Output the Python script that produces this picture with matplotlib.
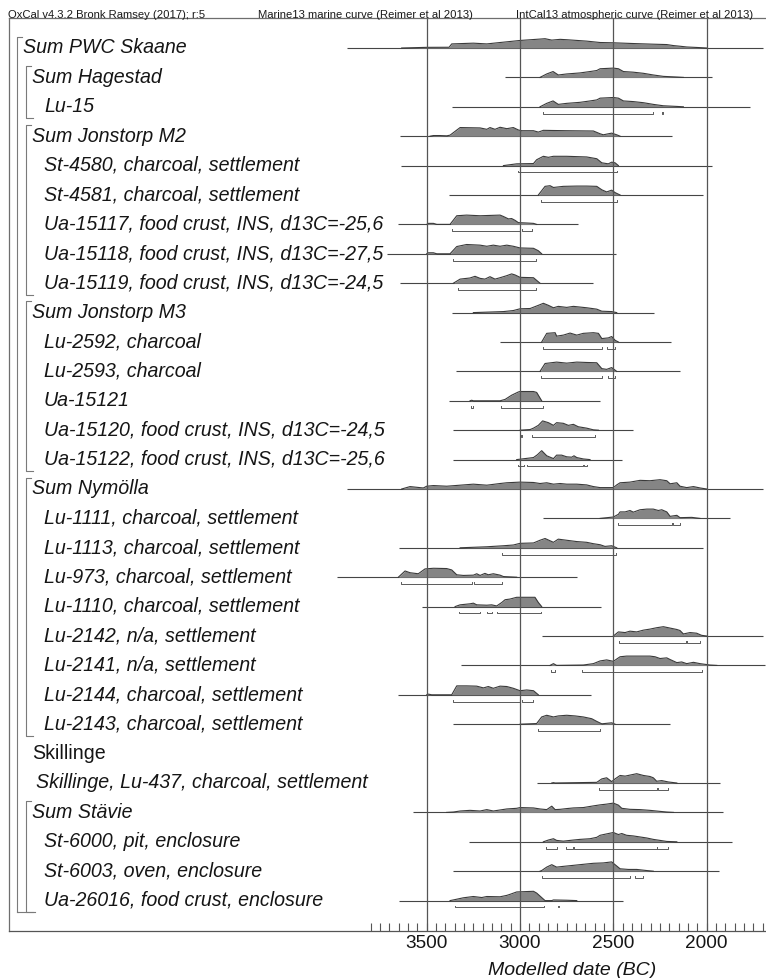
import matplotlib
matplotlib.use("Agg")
import matplotlib.pyplot as plt
from matplotlib.ticker import FixedLocator
import numpy as np

plt.rcParams['font.family'] = ['Liberation Sans', 'DejaVu Sans']

# ---------------------------------------------------------------- data
names = [
    "Sum PWC Skaane", "Sum Hagestad", "Lu-15", "Sum Jonstorp M2",
    "St-4580, charcoal, settlement", "St-4581, charcoal, settlement",
    "Ua-15117, food crust, INS, d13C=-25,6", "Ua-15118, food crust, INS, d13C=-27,5",
    "Ua-15119, food crust, INS, d13C=-24,5", "Sum Jonstorp M3",
    "Lu-2592, charcoal", "Lu-2593, charcoal", "Ua-15121",
    "Ua-15120, food crust, INS, d13C=-24,5", "Ua-15122, food crust, INS, d13C=-25,6",
    "Sum Nymölla", "Lu-1111, charcoal, settlement", "Lu-1113, charcoal, settlement",
    "Lu-973, charcoal, settlement", "Lu-1110, charcoal, settlement",
    "Lu-2142, n/a, settlement", "Lu-2141, n/a, settlement",
    "Lu-2144, charcoal, settlement", "Lu-2143, charcoal, settlement",
    "Skillinge", "Skillinge, Lu-437, charcoal, settlement",
    "Sum Stävie", "St-6000, pit, enclosure", "St-6003, oven, enclosure",
    "Ua-26016, food crust, enclosure",
]
# nesting depth of each entry (0 = outer sum, 1 = site sum, 2 = date)
depth = [0, 1, 2, 1, 2, 2, 2, 2, 2, 1, 2, 2, 2, 2, 2, 1, 2, 2, 2, 2, 2, 2, 2, 2,
         1, 2, 1, 2, 2, 2]
# groups bracketed on the left: (first row, last row)
groups = [(0, 29), (1, 2), (3, 8), (9, 14), (15, 23), (26, 29)]

# span of the prior (thin line) for each row, years BC; None = no plot
span = [
    (3929, 1696), (3080, 1973), (3366, 1768), (3643, 2187), (3637, 1973),
    (3379, 2018), (3652, 2687), (3714, 2486), (3643, 2607), (3366, 2282),
    (3107, 2192), (3345, 2143), (3379, 2571), (3357, 2396), (3357, 2455),
    (3929, 1696), (2878, 1875), (3648, 2018), (3982, 2693), (3527, 2566),
    (2884, 1696), (3318, 1687), (3652, 2621), (3357, 2196), None,
    (2911, 1928), (3571, 1910), (3271, 1866), (3357, 1932), (3648, 2450),
]

# posterior density outlines: years BC and relative density (max = 100)
dens_years = [
    [3634, 3500, 3380, 3366, 3250, 3178, 3107, 3000, 2893, 2866, 2830, 2785, 2750,
     2643, 2571, 2500, 2393, 2286, 2214, 2178, 2143, 2107, 2035, 2000],
    [2893, 2857, 2823, 2795, 2750, 2679, 2625, 2589, 2571, 2500, 2473, 2446, 2393,
     2339, 2286, 2232, 2160, 2125],
    [2893, 2857, 2823, 2795, 2750, 2679, 2625, 2589, 2571, 2500, 2473, 2446, 2393,
     2339, 2286, 2232, 2160, 2125],
    [3482, 3464, 3429, 3393, 3375, 3321, 3214, 3178, 3161, 3134, 3107, 3071, 3036,
     3009, 2991, 2928, 2902, 2875, 2750, 2607, 2571, 2554, 2509, 2482, 2464],
    [3089, 3018, 2928, 2911, 2875, 2848, 2821, 2750, 2643, 2589, 2562, 2527, 2509,
     2491, 2473],
    [2902, 2866, 2839, 2821, 2768, 2696, 2643, 2589, 2562, 2536, 2509, 2491, 2464],
    [3500, 3491, 3464, 3446, 3375, 3339, 3286, 3214, 3107, 3089, 3062, 3045, 3027,
     3009, 2964, 2928, 2911],
    [3500, 3491, 3464, 3446, 3375, 3339, 3286, 3214, 3178, 3143, 3107, 3071, 3036,
     3000, 2928, 2902, 2884],
    [3357, 3321, 3268, 3241, 3214, 3188, 3161, 3134, 3107, 3071, 3045, 3027, 3000,
     2928, 2893],
    [3250, 3089, 3036, 3000, 2946, 2902, 2875, 2848, 2821, 2795, 2750, 2714, 2643,
     2589, 2562, 2509, 2482],
    [2884, 2857, 2812, 2804, 2768, 2732, 2696, 2661, 2607, 2580, 2562, 2527, 2509,
     2491, 2473],
    [2893, 2866, 2804, 2750, 2696, 2643, 2589, 2562, 2536, 2509, 2482],
    [3268, 3259, 3250, 3107, 3080, 3045, 3009, 3000, 2928, 2911, 2884],
    [3000, 2946, 2928, 2902, 2879, 2848, 2821, 2804, 2768, 2741, 2714, 2688, 2643,
     2607, 2580],
    [3018, 2928, 2907, 2884, 2857, 2821, 2804, 2777, 2750, 2723, 2711, 2696, 2661,
     2625],
    [3634, 3589, 3518, 3500, 3464, 3393, 3321, 3250, 3178, 3107, 3071, 3000, 2928,
     2893, 2857, 2821, 2785, 2750, 2696, 2643, 2607, 2571, 2500, 2482, 2464, 2411,
     2357, 2304, 2250, 2214, 2196, 2160, 2143, 2107, 2071, 2035, 2000],
    [2571, 2500, 2473, 2464, 2437, 2411, 2393, 2357, 2321, 2286, 2259, 2241, 2214,
     2196, 2160, 2143, 2080, 2036],
    [3321, 3178, 3089, 3036, 3000, 2928, 2893, 2866, 2821, 2795, 2750, 2696, 2643,
     2607, 2571, 2545, 2509, 2482],
    [3652, 3616, 3589, 3545, 3509, 3464, 3393, 3366, 3339, 3304, 3250, 3232, 3214,
     3188, 3170, 3143, 3107, 3089, 3018],
    [3348, 3321, 3268, 3250, 3232, 3178, 3152, 3125, 3098, 3080, 3054, 3018, 2920,
     2902, 2884],
    [2500, 2473, 2437, 2411, 2375, 2339, 2304, 2268, 2232, 2196, 2160, 2143, 2125,
     2089, 2054, 2027, 2000],
    [2839, 2821, 2804, 2661, 2607, 2571, 2536, 2500, 2464, 2429, 2304, 2277, 2250,
     2214, 2196, 2160, 2134, 2107, 2071, 2036, 1982, 1946],
    [3500, 3491, 3473, 3366, 3339, 3286, 3232, 3196, 3170, 3143, 3107, 3071, 3036,
     3000, 2964, 2928, 2902],
    [3000, 2911, 2884, 2857, 2821, 2795, 2750, 2705, 2661, 2616, 2589, 2562, 2509,
     2491],
    [],
    [2830, 2821, 2812, 2589, 2562, 2536, 2509, 2491, 2464, 2437, 2411, 2375, 2339,
     2304, 2286, 2268, 2241, 2205, 2160],
    [3393, 3357, 3321, 3268, 3214, 3178, 3143, 3107, 3071, 3018, 3000, 2928, 2893,
     2857, 2830, 2812, 2785, 2750, 2714, 2661, 2607, 2571, 2536, 2500, 2473, 2455,
     2411, 2357, 2304, 2250, 2214, 2178],
    [2875, 2848, 2821, 2804, 2768, 2714, 2679, 2625, 2589, 2571, 2536, 2500, 2473,
     2455, 2429, 2393, 2321, 2286, 2250, 2214, 2160],
    [2893, 2884, 2857, 2830, 2804, 2768, 2714, 2661, 2607, 2554, 2509, 2500, 2464,
     2420, 2375, 2321, 2286],
    [3375, 3348, 3304, 3250, 3205, 3178, 3107, 3071, 3054, 3018, 2928, 2911, 2866,
     2830, 2821, 2750, 2696],
]
dens_vals = [
    [0, 7, 8, 44, 52, 44, 59, 81, 96, 100, 85, 93, 89, 74, 59, 56, 48, 41, 37, 26,
     19, 11, 4, 0],
    [0, 37, 63, 26, 37, 48, 63, 74, 93, 100, 93, 63, 56, 44, 26, 11, 4, 0],
    [0, 37, 63, 26, 37, 48, 63, 74, 93, 100, 93, 63, 56, 44, 26, 11, 4, 0],
    [0, 7, 7, 4, 11, 93, 89, 74, 93, 74, 96, 81, 93, 67, 59, 59, 44, 63, 59, 56,
     26, 15, 33, 15, 0],
    [0, 19, 22, 63, 100, 89, 100, 100, 93, 74, 30, 19, 37, 30, 0],
    [0, 93, 100, 81, 93, 96, 96, 93, 56, 33, 52, 26, 0],
    [0, 11, 11, 0, 0, 93, 100, 93, 100, 85, 59, 63, 44, 19, 15, 11, 0],
    [0, 11, 11, 0, 0, 78, 100, 93, 81, 93, 81, 93, 81, 63, 59, 33, 0],
    [0, 44, 56, 74, 52, 44, 70, 44, 59, 81, 100, 89, 63, 59, 0],
    [0, 11, 22, 41, 44, 78, 100, 78, 52, 67, 56, 67, 52, 37, 15, 11, 0],
    [0, 93, 100, 63, 74, 96, 74, 93, 100, 93, 37, 44, 59, 19, 0],
    [0, 85, 100, 89, 100, 96, 93, 30, 22, 41, 0],
    [0, 6, 0, 0, 15, 60, 95, 100, 100, 90, 0],
    [0, 7, 22, 52, 100, 81, 52, 81, 74, 52, 63, 37, 22, 4, 0],
    [0, 22, 52, 96, 41, 11, 48, 48, 30, 26, 41, 22, 7, 0],
    [0, 26, 11, 30, 37, 30, 41, 52, 41, 59, 67, 74, 70, 59, 67, 52, 59, 52, 52, 44,
     26, 15, 15, 44, 67, 74, 93, 89, 100, 89, 56, 67, 30, 15, 26, 11, 0],
    [0, 15, 44, 70, 70, 85, 67, 93, 100, 100, 85, 93, 70, 22, 33, 8, 11, 0],
    [0, 11, 22, 30, 48, 52, 81, 100, 59, 93, 81, 67, 59, 44, 33, 15, 22, 0],
    [0, 67, 48, 37, 89, 96, 93, 78, 26, 19, 22, 37, 19, 41, 26, 37, 22, 7, 0],
    [0, 19, 30, 37, 19, 15, 19, 7, 44, 74, 81, 100, 100, 44, 0],
    [0, 44, 37, 52, 44, 63, 74, 89, 100, 85, 70, 59, 22, 37, 30, 7, 0],
    [0, 19, 0, 4, 19, 48, 59, 44, 93, 100, 100, 93, 74, 81, 63, 30, 37, 19, 33, 19,
     4, 0],
    [0, 7, 0, 0, 96, 96, 93, 74, 89, 70, 93, 89, 70, 44, 52, 44, 0],
    [0, 7, 78, 96, 78, 89, 96, 89, 78, 59, 30, 4, 15, 0],
    [],
    [0, 4, 0, 7, 44, 56, 15, 44, 81, 74, 85, 100, 81, 70, 56, 19, 26, 11, 0],
    [0, 4, 15, 22, 15, 30, 15, 26, 37, 44, 52, 48, 37, 30, 67, 30, 33, 41, 48, 52,
     70, 81, 89, 100, 78, 44, 33, 30, 22, 11, 4, 0],
    [0, 19, 33, 15, 7, 19, 26, 33, 48, 70, 85, 100, 78, 89, 70, 63, 41, 26, 15, 4, 0],
    [0, 7, 44, 70, 44, 52, 63, 74, 85, 89, 100, 85, 26, 19, 19, 7, 0],
    [0, 11, 30, 44, 33, 44, 41, 56, 67, 93, 100, 81, 0, 0, 7, 4, 0],
]

# 95.4% highest posterior density ranges (years BC)
hpd_ranges = [
    [], [], [(2875, 2285), (2238, 2232)], [], [(3012, 2478)], [(2889, 2478)],
    [(3366, 3000), (2988, 2937)], [(3361, 2916)], [(3330, 2916)], [],
    [(2878, 2562), (2532, 2491)], [(2889, 2562), (2527, 2491)],
    [(3260, 3254), (3101, 2878)], [(2994, 2988), (2934, 2598)],
    [(3009, 2979), (2964, 2660), (2656, 2639)], [],
    [(2473, 2187), (2182, 2143)], [(3098, 2486)], [(3639, 3259), (3244, 3098)],
    [(3329, 3214), (3179, 3152), (3121, 2889)], [(2468, 2110), (2103, 2035)],
    [(2835, 2812), (2669, 2026)], [(3357, 3000), (2988, 2928)], [(2902, 2571)],
    [], [(2577, 2268), (2259, 2205)], [],
    [(2862, 2803), (2755, 2715), (2709, 2268), (2264, 2205)],
    [(2884, 2410), (2384, 2343)], [(3346, 2869), (2797, 2791)],
]

major_ticks = [3500, 3000, 2500, 2000]
minor_ticks = list(range(1700, 3801, 50))

# ---------------------------------------------------------------- layout
W, H = 766, 979
PX_PER_YEAR = 93.333 / 500.0
X3500 = 426.7          # pixel column of 3500 BC


def yr(px):
    """Convert a horizontal pixel position to a calendar year BC."""
    return 3500 + (X3500 - px) / PX_PER_YEAR


AX_L, AX_R, AX_T, AX_B = 8.5, 772.0, 19.0, 932.0
ROW0, ROW_STEP = 49.0, 29.4
H_SCALE = 9.3 / 100.0
FILL = '#858585'
EDGE = '#3a3a3a'
LINE = '#454545'
GRID = '#555555'
FRAME = '#6e6e6e'

fig = plt.figure(figsize=(W / 100, H / 100), dpi=100)
ax = fig.add_axes([AX_L / W, (H - AX_B) / H, (AX_R - AX_L) / W, (AX_B - AX_T) / H])
ax.set_xlim(yr(AX_L), yr(AX_R))
ax.set_ylim(AX_B, AX_T)

for i, name in enumerate(names):
    base = ROW0 + ROW_STEP * i
    if span[i] is not None:
        ax.plot(span[i], [base, base], color=LINE, lw=0.8, zorder=2,
                solid_capstyle='butt')
    if dens_years[i]:
        xs = np.array(dens_years[i], float)
        top = base - np.array(dens_vals[i], float) * H_SCALE
        ax.fill_between(xs, base, top, color=FILL, lw=0, zorder=3)
        ax.plot(xs, top, color=EDGE, lw=0.8, zorder=4)
    yb = base + 6.7
    for a, b in hpd_ranges[i]:
        ax.plot([a, a, b, b], [yb - 1.8, yb, yb, yb - 1.8], color='#5a5a5a',
                lw=0.7, zorder=4)

    # row label
    if i == 24:
        x0, style = 31.7, 'normal'
    elif i == 25:
        x0, style = 36.0, 'italic'
    else:
        x0 = [22.7, 31.7, 44.0][depth[i]]
        style = 'italic'
    ax.text(yr(x0), base + 4.3, name, fontsize=14.1, fontstyle=style,
            color='#151515', va='baseline', ha='left', zorder=5)

# group brackets
for g0, g1 in groups:
    lvl = depth[g0]
    xv = 17.3 if lvl == 0 else 26.0
    top = ROW0 + ROW_STEP * g0 - 11.5
    bot = ROW0 + ROW_STEP * g1 + 11.3
    ax.plot([yr(xv + 4.5), yr(xv), yr(xv), yr(xv + 6.5 if lvl else 17.7)],
            [top, top, bot, bot], color='#7a7a7a', lw=0.8, zorder=2)
ax.plot([yr(17.3), yr(35.0)], [ROW0 + ROW_STEP * 29 + 11.3] * 2,
        color='#7a7a7a', lw=0.8, zorder=2)

# vertical reference lines
ax.vlines(major_ticks, AX_T, AX_B, color=GRID, lw=0.9, zorder=6)

# axis
ax.set_xticks(major_ticks)
ax.set_xticklabels([str(t) for t in major_ticks])
ax.xaxis.set_minor_locator(FixedLocator(minor_ticks))
ax.tick_params(axis='x', which='both', direction='in', length=5.5, width=0.8,
               color=GRID, labelsize=13.7, pad=2.5, labelcolor='#151515')
ax.set_yticks([])
for side in ('left', 'top', 'bottom'):
    ax.spines[side].set_color(FRAME)
    ax.spines[side].set_linewidth(0.9)
ax.spines['bottom'].set_color(GRID)
ax.spines['right'].set_visible(False)

fig.text(572.5 / W, 1 - 975 / H, "Modelled date (BC)", fontsize=14,
         fontstyle='italic', ha='center', va='baseline', color='#151515')

# header line
hdr = dict(fontsize=8.1, va='baseline', ha='left', color='#1a1a1a')
fig.text(8 / W, 1 - 17.8 / H, "OxCal v4.3.2 Bronk Ramsey (2017); r:5", **hdr)
fig.text(258 / W, 1 - 17.8 / H, "Marine13 marine curve (Reimer et al 2013)", **hdr)
fig.text(516 / W, 1 - 17.8 / H, "IntCal13 atmospheric curve (Reimer et al 2013)",
         **hdr)

fig.savefig("out.png", dpi=100, facecolor='white')
